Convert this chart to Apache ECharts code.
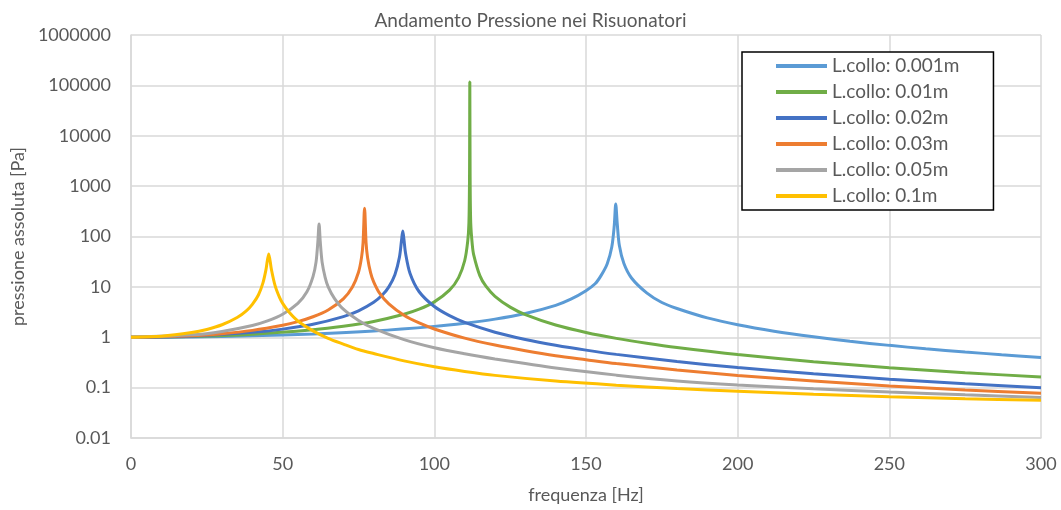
<!DOCTYPE html>
<html>
<head>
<meta charset="utf-8">
<script src="https://cdn.jsdelivr.net/npm/echarts@6/dist/echarts.min.js"></script>
<style>
  html, body { margin: 0; padding: 0; background: #fff; }
  #chart { width: 1061px; height: 510px; }
</style>
</head>
<body>
<div id="chart"></div>
<script>
// [frequenza Hz, pressione Pa]
const collo0001 = [[0,1],[20,1.016],[40,1.067],[60,1.164],[80,1.334],[100,1.644],[110,1.9],[120,2.29],[130,2.96],[140,4.3],[145,5.7],[150,8.4],[153,11.5],[155,16.9],[157,28.8],[158.5,62],[159.3,160],[159.8,440],[160.3,180],[161,66],[162.5,29],[165,15],[170,7.6],[175,4.9],[180,3.72],[190,2.42],[200,1.77],[212,1.32],[225,1.02],[237,0.83],[250,0.69],[262,0.59],[275,0.51],[287,0.45],[300,0.396]];
const collo001 = [[0,1],[20,1.033],[40,1.147],[60,1.406],[70,1.65],[80,2.06],[90,2.86],[95,3.6],[100,5.04],[105,8.6],[108,15.3],[110,33],[111,80],[111.4,186],[111.6,1500],[111.7,117000],[111.8,1500],[112,186],[112.5,70],[113,42.7],[115,16.7],[117,10.3],[120,6.5],[125,3.96],[130,2.82],[140,1.75],[150,1.245],[160,0.95],[170,0.76],[180,0.626],[200,0.453],[225,0.327],[250,0.249],[275,0.198],[300,0.162]];
const collo002 = [[0,1],[20,1.052],[40,1.25],[50,1.45],[60,1.81],[70,2.57],[75,3.34],[80,4.93],[83,7.05],[85,10],[87,17.5],[88.5,39],[89.2,85],[89.6,128],[90,85],[90.5,47],[92,18.4],[95,8],[100,4.07],[105,2.68],[110,1.97],[120,1.26],[130,0.905],[140,0.694],[150,0.555],[160,0.457],[180,0.329],[200,0.251],[225,0.188],[250,0.147],[275,0.119],[300,0.099]];
const collo003 = [[0,1],[20,1.072],[30,1.179],[40,1.37],[50,1.73],[55,2.04],[60,2.55],[65,3.48],[70,5.76],[73,9.9],[75,19.5],[76,38.5],[76.5,75],[77,365],[77.5,75],[78,38],[79,19],[80,12.6],[82,7.4],[85,4.6],[90,2.73],[95,1.92],[100,1.46],[110,0.96],[120,0.70],[130,0.54],[140,0.43],[150,0.358],[160,0.30],[180,0.225],[200,0.175],[225,0.136],[250,0.108],[275,0.09],[300,0.077]];
const collo005 = [[0,1],[20,1.116],[30,1.306],[40,1.71],[45,2.11],[50,2.86],[55,4.7],[58,8],[60,16],[61,31],[61.6,78],[62,177],[62.4,78],[63,31],[64,15.5],[65,10],[67,6],[70,3.6],[75,2.16],[80,1.5],[90,0.9],[100,0.62],[110,0.47],[120,0.37],[130,0.3],[140,0.245],[160,0.177],[180,0.136],[200,0.113],[225,0.095],[250,0.082],[275,0.072],[300,0.064]];
const collo01 = [[0,1],[10,1.05],[20,1.24],[25,1.43],[30,1.77],[35,2.46],[38,3.34],[40,4.5],[42,6.9],[43.5,12],[44.5,22],[45.4,45],[46.3,22],[47.5,10.6],[49,6.1],[50,4.7],[52,3.2],[55,2.1],[60,1.34],[65,0.95],[70,0.73],[75,0.57],[80,0.475],[90,0.34],[100,0.26],[110,0.21],[120,0.175],[140,0.135],[160,0.112],[180,0.096],[200,0.085],[225,0.074],[250,0.066],[275,0.06],[300,0.056]];

const seriesNames = ['L.collo: 0.001m','L.collo: 0.01m','L.collo: 0.02m','L.collo: 0.03m','L.collo: 0.05m','L.collo: 0.1m'];
const seriesData = [collo0001, collo001, collo002, collo003, collo005, collo01];
const colors = ['#5B9BD5','#70AD47','#4472C4','#ED7D31','#A5A5A5','#FFC000'];

const font = 'Lato, "Open Sans", sans-serif';
const grey = '#595959';
const gridGrey = '#D9D9D9';

const chart = echarts.init(document.getElementById('chart'));
chart.setOption({
  animation: false,
  color: colors,
  textStyle: { fontFamily: font },
  title: {
    text: 'Andamento Pressione nei Risuonatori',
    left: 'center',
    top: 6,
    textStyle: { color: grey, fontSize: 19, fontWeight: 'normal', fontFamily: font }
  },
  legend: {
    orient: 'vertical',
    left: 742,
    top: 52,
    icon: 'rect',
    itemWidth: 51,
    itemHeight: 4,
    itemGap: 4,
    padding: [3, 34, 3, 34],
    borderColor: '#000',
    borderWidth: 1.5,
    backgroundColor: '#fff',
    textStyle: { color: grey, fontSize: 19, lineHeight: 22, fontFamily: font },
    data: seriesNames
  },
  grid: { left: 131, right: 20, top: 35, bottom: 72 },
  xAxis: {
    type: 'value',
    min: 0,
    max: 300,
    interval: 50,
    name: 'frequenza [Hz]',
    nameLocation: 'middle',
    nameGap: 48,
    nameTextStyle: { color: grey, fontSize: 18, fontFamily: font },
    axisLine: { show: true, lineStyle: { color: gridGrey, width: 1.5 } },
    axisTick: { show: false },
    axisLabel: { color: grey, fontSize: 18, margin: 17, fontFamily: font },
    splitLine: { show: true, lineStyle: { color: gridGrey, width: 1.5 } }
  },
  yAxis: {
    type: 'log',
    logBase: 10,
    min: 0.01,
    max: 1000000,
    name: 'pressione assoluta [Pa]',
    nameLocation: 'middle',
    nameGap: 100,
    nameTextStyle: { color: grey, fontSize: 18, fontFamily: font },
    axisLine: { show: true, lineStyle: { color: gridGrey, width: 1.5 } },
    axisTick: { show: false },
    axisLabel: {
      color: grey, fontSize: 18, margin: 20, fontFamily: font,
      formatter: v => String(Number(v.toPrecision(6)))
    },
    splitLine: { show: true, lineStyle: { color: gridGrey, width: 1.5 } }
  },
  series: seriesData.map((d, i) => ({
    name: seriesNames[i],
    type: 'line',
    data: d,
    symbol: 'none',
    showSymbol: false,
    smooth: 0.3,
    lineStyle: { width: 3, color: colors[i] },
    itemStyle: { color: colors[i] }
  }))
});
</script>
</body>
</html>
